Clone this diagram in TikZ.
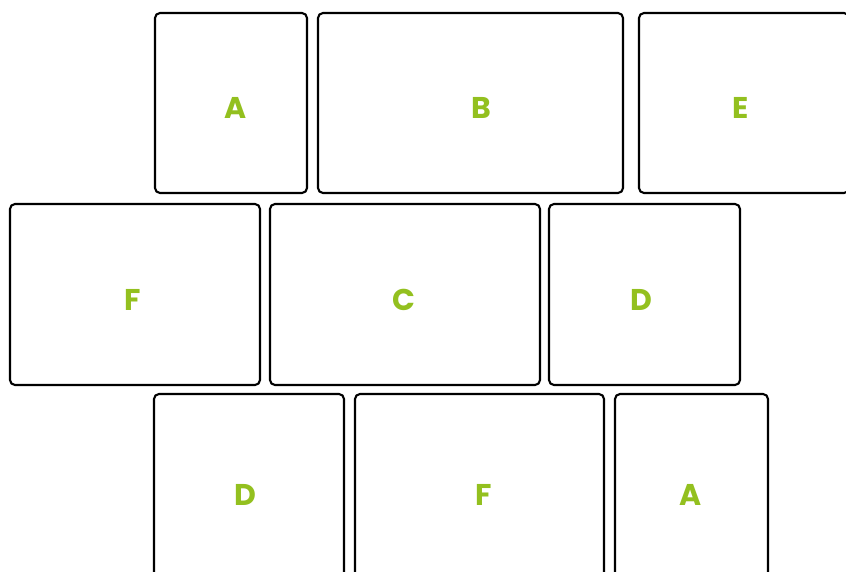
\documentclass[tikz,border=0pt]{standalone}
\usepackage{fontspec}
\newfontfamily\lblfont{Poppins}
\definecolor{leaf}{HTML}{93C01F}
\begin{document}
\begin{tikzpicture}[x=1pt,y=-1pt]
\tikzstyle{tile}=[draw,line width=2.1pt,rounded corners=5pt,inner sep=0pt]
\tikzstyle{lbl}=[text=leaf,inner sep=0pt,font=\lblfont\bfseries\fontsize{30}{32}\selectfont,
  text height=31pt,text depth=0pt]

\useasboundingbox (0,0) rectangle (846,571);
\clip (0,0) rectangle (846,571);

% Top row
\node[tile,minimum width=152pt,minimum height=180pt,label={[lbl,xshift=5pt]center:A}] (a1) at (231,103) {};
\node[tile,minimum width=305pt,minimum height=180pt,label={[lbl,xshift=11pt]center:B}] (b1) at (470.5,103) {};
\node[tile,minimum width=210pt,minimum height=180pt,label={[lbl,xshift=-3pt]center:E}] (e1) at (744,103) {};

% Middle row
\node[tile,minimum width=250pt,minimum height=181pt,label={[lbl,xshift=-2pt]center:F}] (f2) at (135,294.5) {};
\node[tile,minimum width=270pt,minimum height=181pt,label={[lbl,xshift=-1pt]center:C}] (c2) at (405,294.5) {};
\node[tile,minimum width=191pt,minimum height=181pt,label={[lbl,xshift=-3pt]center:D}] (d2) at (644.5,294.5) {};

% Bottom row
\node[tile,minimum width=190pt,minimum height=192pt,label={[lbl,xshift=-4pt]center:D}] (d3) at (249,490) {};
\node[tile,minimum width=249pt,minimum height=192pt,label={[lbl,xshift=4pt]center:F}] (f3) at (479.5,490) {};
\node[tile,minimum width=153pt,minimum height=192pt,label={[lbl,xshift=-1pt]center:A}] (a3) at (691.5,490) {};
\end{tikzpicture}
\end{document}
